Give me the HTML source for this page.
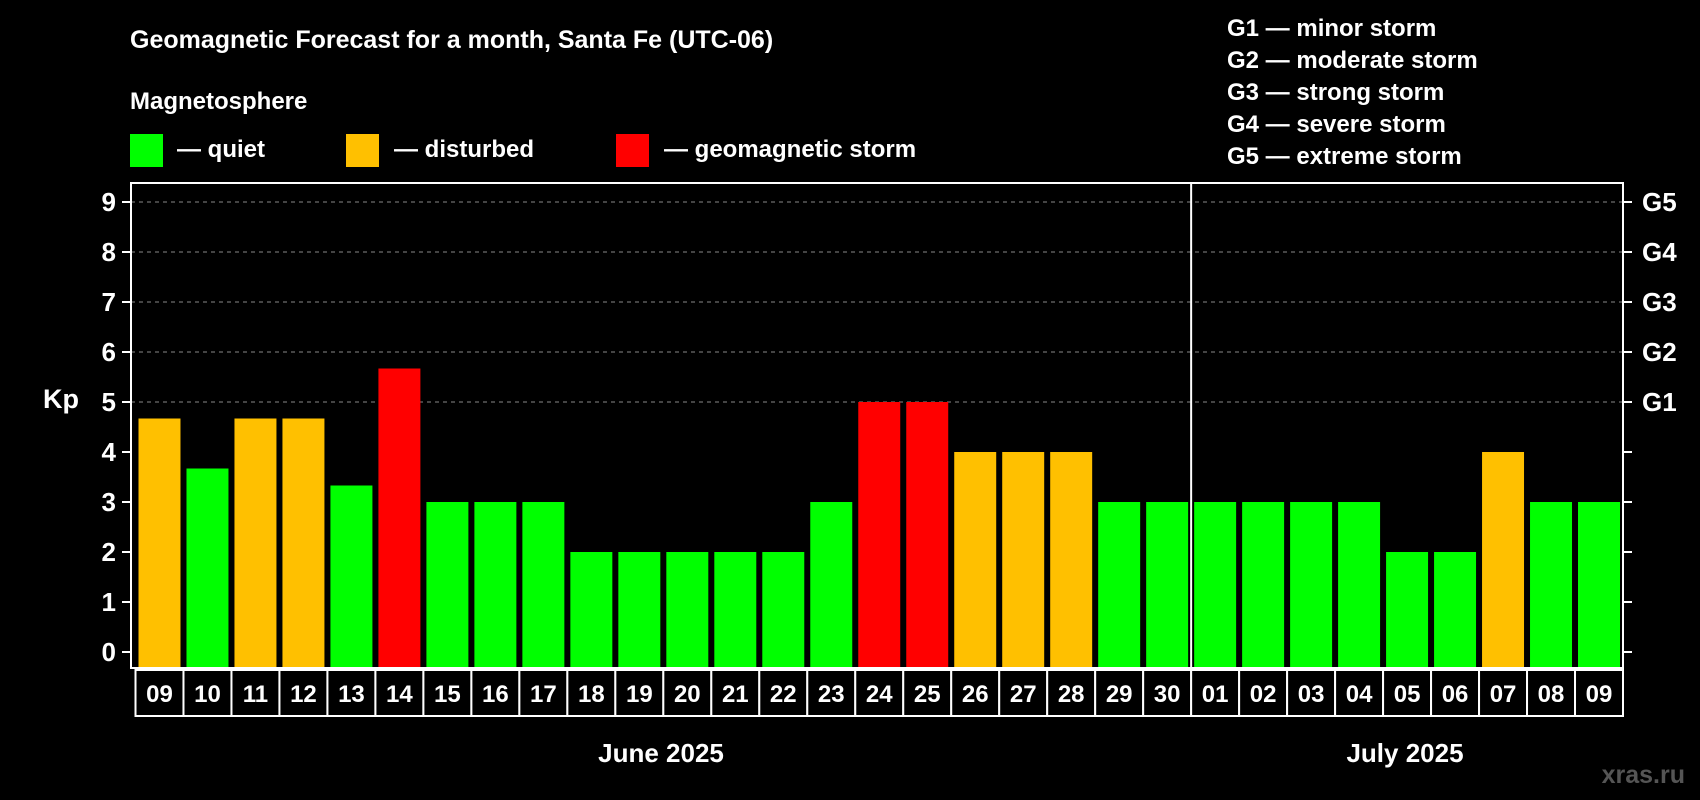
<!DOCTYPE html>
<html><head><meta charset="utf-8"><style>
html,body{margin:0;padding:0;background:#000;}
svg{display:block;font-family:"Liberation Sans",Arial,sans-serif;font-weight:bold;}
</style></head><body>
<svg id="chart" width="1700" height="800" viewBox="0 0 1700 800">
<rect x="0" y="0" width="1700" height="800" fill="#000"/>
<text x="130" y="48" fill="#fff" font-size="25">Geomagnetic Forecast for a month, Santa Fe (UTC-06)</text>
<text x="130" y="109" fill="#fff" font-size="24">Magnetosphere</text>
<g><rect x="130" y="134" width="33" height="33" fill="#00ff00"/><text x="177" y="157" fill="#fff" font-size="24">— quiet</text></g>
<g><rect x="346" y="134" width="33" height="33" fill="#ffc000"/><text x="394" y="157" fill="#fff" font-size="24">— disturbed</text></g>
<g><rect x="616" y="134" width="33" height="33" fill="#ff0000"/><text x="664" y="157" fill="#fff" font-size="24">— geomagnetic storm</text></g>
<g fill="#fff" font-size="24">
<text x="1227" y="36">G1 — minor storm</text>
<text x="1227" y="68">G2 — moderate storm</text>
<text x="1227" y="100">G3 — strong storm</text>
<text x="1227" y="132">G4 — severe storm</text>
<text x="1227" y="164">G5 — extreme storm</text>
</g>
<g id="plot"></g>
<text x="43" y="408" fill="#fff" font-size="27">Kp</text>
<text x="661" y="762" fill="#fff" font-size="26" text-anchor="middle">June 2025</text>
<text x="1405" y="762" fill="#fff" font-size="26" text-anchor="middle">July 2025</text>
<text x="1685" y="783" fill="#555" font-size="25" text-anchor="end">xras.ru</text>
</svg>
<script>
const days = ["09","10","11","12","13","14","15","16","17","18","19","20","21","22","23","24","25","26","27","28","29","30","01","02","03","04","05","06","07","08","09"];
const kpValues = [4.67,3.67,4.67,4.67,3.33,5.67,3,3,3,2,2,2,2,2,3,5,5,4,4,4,3,3,3,3,3,3,2,2,4,3,3];
const yTicks = [0,1,2,3,4,5,6,7,8,9];
const gLabels = ["G1","G2","G3","G4","G5"];
const gLevels = [5,6,7,8,9];
const monthSplitIndex = 22;

const NS = "http://www.w3.org/2000/svg";
const plot = document.getElementById("plot");
const L = 131, R = 1623, T = 183, B = 668;
const slotStart = 135.5, slot = (R - slotStart) / days.length;
const y = v => 652 - v * 50;
const x = i => slotStart + i * slot;
function mk(tag, attrs, parent) {
  const e = document.createElementNS(NS, tag);
  for (const k in attrs) e.setAttribute(k, attrs[k]);
  (parent || plot).appendChild(e);
  return e;
}
// gridlines
gLevels.forEach(v => {
  const g = mk("line", {x1: L, x2: R, y1: y(v), y2: y(v), stroke: "#888", "stroke-width": 1, "stroke-dasharray": "4,4"});
  
  
});
// bars
kpValues.forEach((v, i) => {
  const c = v >= 5 ? "#ff0000" : (v >= 4 ? "#ffc000" : "#00ff00");
  const b = mk("rect", {x: x(i) + 3, y: y(v), width: slot - 6, height: B - y(v) - 1, fill: c});
  
  
});
// frame
const f = mk("rect", {x: L, y: T, width: R - L, height: B - T, fill: "none", stroke: "#fff", "stroke-width": 2});


const dv = mk("line", {x1: x(monthSplitIndex), x2: x(monthSplitIndex), y1: T, y2: B, stroke: "#fff", "stroke-width": 2});


// y ticks
yTicks.forEach(v => {
  mk("line", {x1: L - 9, x2: L, y1: y(v), y2: y(v), stroke: "#fff", "stroke-width": 2});
  mk("line", {x1: R, x2: R + 9, y1: y(v), y2: y(v), stroke: "#fff", "stroke-width": 2});
  const t = mk("text", {x: 116, y: y(v) + 9, fill: "#fff", "font-size": 26, "text-anchor": "end"});
  t.textContent = v;
  
  
});
gLabels.forEach((g, i) => {
  const t = mk("text", {x: 1642, y: y(gLevels[i]) + 9, fill: "#fff", "font-size": 26});
  t.textContent = g;
  
  
});
// day label boxes
days.forEach((d, i) => {
  const r = mk("rect", {x: x(i), y: 670, width: slot, height: 46, fill: "#000", stroke: "#fff", "stroke-width": 2});
  
  
  const t = mk("text", {x: x(i) + slot / 2, y: 702, fill: "#fff", "font-size": 24, "text-anchor": "middle"});
  t.textContent = d;
  
  
});
</script>
</body></html>
